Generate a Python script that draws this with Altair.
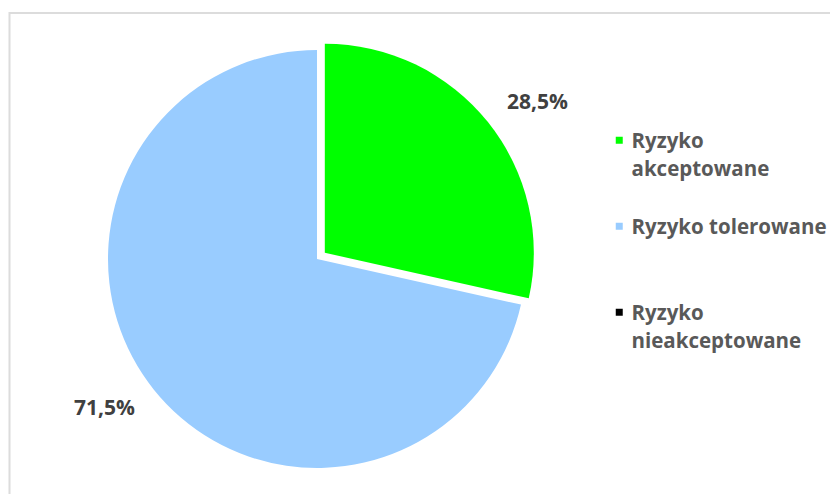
import altair as alt
import pandas as pd

categories = ["Ryzyko akceptowane", "Ryzyko tolerowane", "Ryzyko nieakceptowane"]
legend_labels = ["Ryzyko|akceptowane", "Ryzyko tolerowane", "Ryzyko|nieakceptowane"]
values = [28.5, 71.5, 0.0]
exploded = [1, 0, 0]
colors = ["#00FF00", "#99CCFF", "#000000"]

df = pd.DataFrame({
    "category": categories,
    "legend_label": legend_labels,
    "value": values,
    "explode": exploded,
    "order": list(range(len(categories))),
})

CX, CY, R, EXPL, RLAB, ROT = 309, 251, 209, 10, 260, 0.062
W, H = 822, 486

base = alt.Chart(df).transform_window(
    cum="sum(value)", sort=[alt.SortField("order")], frame=[None, 0]
).transform_joinaggregate(
    total="sum(value)"
).transform_calculate(
    t0="2*PI*(datum.cum - datum.value)/datum.total",
    t1="2*PI*datum.cum/datum.total",
).transform_calculate(
    tm="(datum.t0 + datum.t1)/2"
).transform_calculate(
    cx=f"{CX} + datum.explode*{EXPL}*sin(datum.tm)",
    cy=f"{CY} - datum.explode*{EXPL}*cos(datum.tm)",
).transform_calculate(
    lx=f"datum.cx + {RLAB}*sin(datum.tm + {ROT})",
    ly=f"datum.cy - {RLAB}*cos(datum.tm + {ROT})",
    txt="replace(format(datum.value, '.1f'), '.', ',') + '%'",
)

label_map = str(dict(zip(categories, legend_labels))).replace("'", '"')
label_expr = f"split({label_map}[datum.label], '|')"

# square legend symbol, drawn a little lower so it lines up with the first text line
square_path = "M-1,1.286H1V3.286H-1Z"

arcs = base.mark_arc(radius=R, stroke=None).encode(
    x=alt.X("cx:Q", scale=None, axis=None),
    y=alt.Y("cy:Q", scale=None, axis=None),
    theta=alt.Theta("t0:Q", scale=None, stack=False),
    theta2="t1:Q",
    color=alt.Color(
        "category:N",
        sort=categories,
        scale=alt.Scale(domain=categories, range=colors),
        legend=alt.Legend(
            title=None,
            orient="none",
            legendX=601,
            legendY=114,
            symbolType=square_path,
            symbolSize=49,
            symbolStrokeWidth=0,
            labelFont="Open Sans",
            labelFontSize=20.5,
            labelFontWeight="bold",
            labelColor="#595959",
            labelBaseline="top",
            labelLimit=300,
            labelOffset=2,
            rowPadding=27,
            gridAlign="all",
            labelExpr=label_expr,
        ),
    ),
)

labels = base.transform_filter("datum.value > 0").mark_text(
    font="Open Sans", fontSize=21, fontWeight="bold", color="#404040"
).encode(
    x=alt.X("lx:Q", scale=None, axis=None),
    y=alt.Y("ly:Q", scale=None, axis=None),
    text="txt:N",
)

border_data = alt.Data(values=[{"a": 1}])
top_rule = alt.Chart(border_data).mark_rule(color="#dcdcdc", strokeWidth=2).encode(
    y=alt.value(5), x=alt.value(1), x2=alt.value(W + 20)
)
left_rule = alt.Chart(border_data).mark_rule(color="#dcdcdc", strokeWidth=2).encode(
    x=alt.value(1.5), y=alt.value(4), y2=alt.value(H + 20)
)

chart = alt.layer(top_rule, left_rule, arcs, labels).properties(
    width=W, height=H, autosize=alt.AutoSizeParams(type="none"), padding=0
).configure(
    style={"guide-label": {"lineHeight": 28}}
).configure_view(stroke=None)

chart.save("out.html", embed_options={"renderer": "svg", "actions": False})
